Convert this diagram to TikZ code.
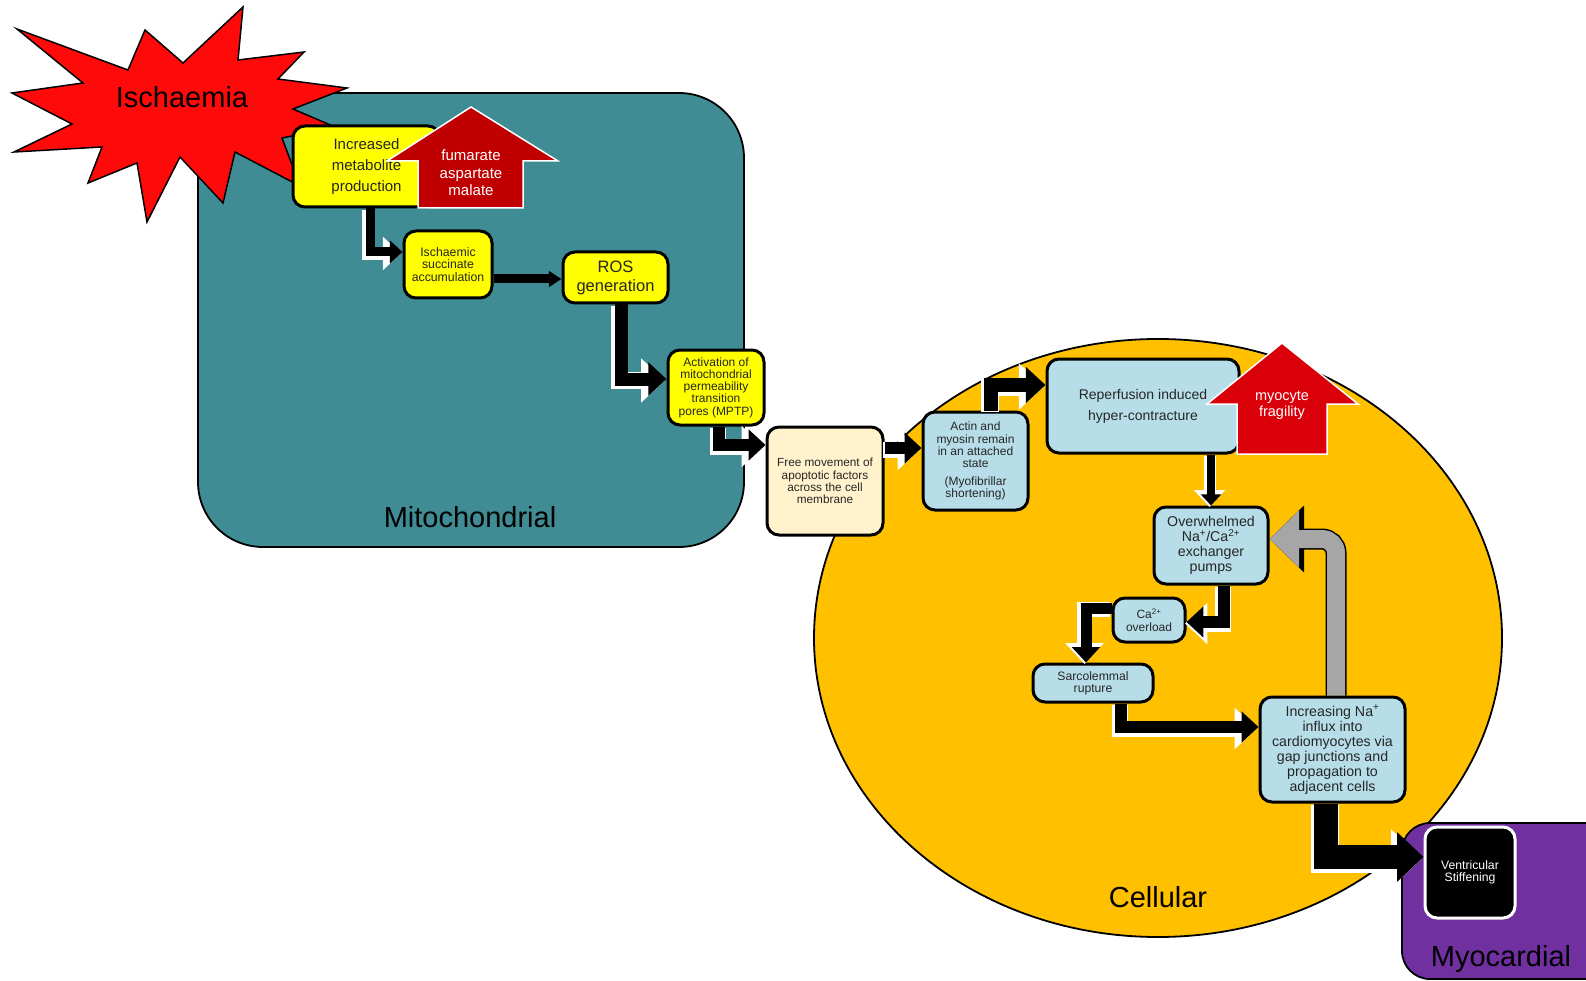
\documentclass[tikz,border=0pt]{standalone}
\usepackage{fontspec}
\setmainfont{Liberation Sans}
\usetikzlibrary{arrows.meta,calc}
\definecolor{tealbg}{RGB}{64,140,148}
\definecolor{cellorange}{RGB}{255,192,0}
\definecolor{myopurple}{RGB}{112,48,160}
\definecolor{boxyellow}{RGB}{255,255,0}
\definecolor{boxblue}{RGB}{183,222,232}
\definecolor{boxcream}{RGB}{255,242,204}
\definecolor{darkred}{RGB}{192,0,0}
\definecolor{brightred}{RGB}{218,0,10}
\definecolor{starred}{RGB}{255,10,10}
\definecolor{arrowgray}{RGB}{166,166,166}
\tikzset{blk/.style={line width=#1, -{Triangle[length=0pt 1.4, width=0pt 2.5]}, preaction={draw=white, line width=#1+4pt, transform canvas={shift={(-1.5pt,-1.5pt)}}}}}

\begin{document}
\begin{tikzpicture}[x=1pt, y=-1pt]
\tikzstyle{box}=[draw, line width=3pt, rounded corners=12pt, align=center, inner sep=0pt, text=black!85]
\tikzstyle{yelbox}=[box, fill=boxyellow]
\tikzstyle{bluebox}=[box, fill=boxblue]
\tikzstyle{region}=[draw, line width=1.8pt]
\tikzstyle{bigtext}=[font=\fontsize{29}{33}\selectfont]
\tikzstyle{uparrow}=[draw=white, line width=1.5pt]
\tikzstyle{flat}=[line width=9pt, -{Triangle[length=0pt 1.4, width=0pt 1.7]}]
\tikzstyle{feedback}=[line width=18pt, draw=arrowgray, rounded corners=14pt, -{Triangle[length=0pt 1.65, width=0pt 3.1]}, preaction={draw=black, line width=21pt}]
\useasboundingbox (0,0) rectangle (1586,981);

\draw[region, fill=tealbg, rounded corners=65pt] (198,93) rectangle (744,547);
\draw[region, fill=cellorange] (1158,638) ellipse [x radius=344, y radius=299];
\draw[region, fill=myopurple, rounded corners=28pt] (1402,823) rectangle (1640,979);
\node[bigtext] (mito) at (470,517) {Mitochondrial};
\node[bigtext] (cell) at (1158,897) {Cellular};
\node[bigtext] (myoc) at (1501,959) {Myocardial};

\draw[fill=starred, line width=1.5pt] (17,29) -- (128,70) -- (145,30) -- (183,63) -- (243,7) -- (238,60) -- (304,52) -- (278,79) -- (347,88) -- (293,109) -- (335,127) -- (282,138) -- (300,186) -- (235,152) -- (223,203) -- (180,157) -- (147,222) -- (137,163) -- (88,183) -- (102,147) -- (14,152) -- (72,124) -- (12,93) -- (83,83) -- cycle;
\node[bigtext] (isch) at (182,97) {Ischaemia};

\node[yelbox, minimum width=147pt, minimum height=81pt, font=\fontsize{15}{21}\selectfont] (inc) at (366.5,166.5) {Increased\\metabolite\\production};
\node[yelbox, minimum width=88pt, minimum height=67pt, font=\fontsize{12.3}{12.5}\selectfont] (succ) at (448,264.5) {Ischaemic\\succinate\\accumulation};
\node[yelbox, minimum width=105pt, minimum height=51pt, font=\fontsize{16.5}{19}\selectfont] (ros) at (615.5,277.5) {ROS\\generation};
\node[yelbox, minimum width=96pt, minimum height=75pt, font=\fontsize{12}{12.2}\selectfont] (mptp) at (716,387.5) {Activation of\\mitochondrial\\permeability\\transition\\pores (MPTP)};
\node[box, fill=boxcream, minimum width=116pt, minimum height=108pt, font=\fontsize{11.8}{12.4}\selectfont] (free) at (825,481) {Free movement of\\apoptotic factors\\across the cell\\membrane};
\node[bluebox, minimum width=105pt, minimum height=98pt, font=\fontsize{12}{12.3}\selectfont] (actin) at (975.5,461) {Actin and\\myosin remain\\in an attached\\state\\[5pt](Myofibrillar\\shortening)};
\node[bluebox, minimum width=192pt, minimum height=94pt, font=\fontsize{14}{21}\selectfont] (rep) at (1143,406) {Reperfusion induced\\hyper-contracture};
\node[bluebox, minimum width=114pt, minimum height=77pt, font=\fontsize{14.2}{15}\selectfont] (over) at (1211,545.5) {Overwhelmed\\Na\textsuperscript{+}/Ca\textsuperscript{2+}\\exchanger\\pumps};
\node[bluebox, minimum width=72pt, minimum height=44pt, font=\fontsize{12}{12.5}\selectfont] (caov) at (1149,620) {Ca\textsuperscript{2+}\\overload};
\node[bluebox, minimum width=120pt, minimum height=38pt, font=\fontsize{12.2}{12}\selectfont] (sarc) at (1093,683) {Sarcolemmal\\rupture};
\node[bluebox, minimum width=145pt, minimum height=105pt, font=\fontsize{14.2}{15}\selectfont] (incr) at (1332.5,749.5) {Increasing Na\textsuperscript{+}\\influx into\\cardiomyocytes via\\gap junctions and\\propagation to\\adjacent cells};
\node[box, draw=white, fill=black, text=white, minimum width=90pt, minimum height=91pt, font=\fontsize{12.2}{12}\selectfont] (vent) at (1470,872.5) {Ventricular\\Stiffening};

\draw[uparrow, fill=darkred] (471,107) -- (558,161) -- (523,161) -- (523,208) -- (418,208) -- (418,161) -- (387,161) -- cycle;
\node[font=\fontsize{15}{17.5}\selectfont, text=white, align=center] (fum) at (471,173) {fumarate\\aspartate\\malate};
\draw[uparrow, fill=brightred] (1282,343) -- (1358,404) -- (1327,404) -- (1327,454) -- (1237,454) -- (1237,404) -- (1207,404) -- cycle;
\node[font=\fontsize{14.5}{16}\selectfont, text=white, align=center] (frag) at (1282,405) {myocyte\\fragility};

\draw[blk=9pt] (370,0 |- inc.south) |- (succ.west |- 0,252);
\draw[flat] (succ.east |- 0,279) -- (ros.west |- 0,279);
\draw[blk=13pt] (621,0 |- ros.south) |- (mptp.west |- 0,379);
\draw[blk=12pt] (719,0 |- mptp.south) |- (free.west |- 0,445);
\draw[blk=12pt] (free.east |- 0,448) -- (actin.west |- 0,448);
\draw[blk=14pt] (991,0 |- actin.north) |- (rep.west |- 0,385);
\draw[blk=8pt] (1211,0 |- rep.south) -- (over.north);
\draw[blk=12pt] (1224,0 |- over.south) |- (caov.east |- 0,622);
\draw[blk=11pt] (caov.west |- 0,608) -| (1086,0 |- sarc.north);
\draw[blk=12pt] (1121,0 |- sarc.south) |- (incr.west |- 0,727);
\draw[blk=24pt, -{Triangle[length=0pt 1.1, width=0pt 2]}] (1326,0 |- incr.south) |- (vent.west |- 0,857);
\draw[feedback] (1336,0 |- incr.north) |- (over.east |- 0,539);
\end{tikzpicture}
\end{document}
